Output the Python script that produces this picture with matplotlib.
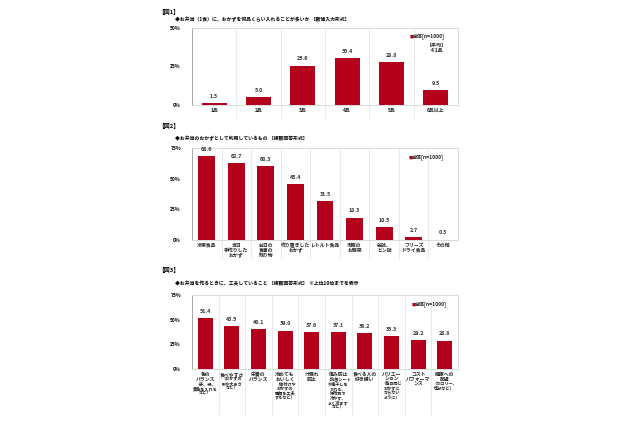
"""
three bar charts about bento side dishes (survey, n=1000)
"""
import matplotlib
matplotlib.use("Agg")
import matplotlib.pyplot as plt

plt.rcParams["font.family"] = ["Noto Sans CJK JP", "DejaVu Sans"]

# --- data ---
fig1_title = "◆お弁当（1食）に、おかずを何品くらい入れることが多いか ［数値入力形式］"
fig1_cats = ["1品", "2品", "3品", "4品", "5品", "6品以上"]
fig1_vals = [1.5, 5.0, 25.6, 30.4, 28.0, 9.5]
fig1_ticks = [0, 25, 50]

fig2_title = "◆お弁当のおかずとして利用しているもの ［複数回答形式］"
fig2_cats = ["冷凍食品", "当日\n手作りした\nおかず", "前日の\n食事の\n残り物",
             "作り置きした\nおかず", "レトルト食品", "市販の\nお惣菜", "缶詰、\nビン詰",
             "フリーズ\nドライ食品", "その他"]
fig2_vals = [68.6, 62.7, 60.3, 45.4, 31.5, 18.3, 10.5, 2.7, 0.3]
fig2_ticks = [0, 25, 50, 75]

fig3_title = "◆お弁当を作るときに、工夫していること ［複数回答形式］ ※上位10位までを表示"
fig3_cats = ["色の\nバランス", "食べやすさ", "栄養の\nバランス", "冷めても\nおいしく",
             "汁漏れ\n防止", "傷み防止", "食べる人の\n好き嫌い", "バリエー\nション",
             "コスト\nパフォーマ\nンス", "健康への\n配慮"]
fig3_notes = ["（赤、緑、\n黄色を入れる\nなど）", "（おかずの\n形や大きさ\nなど）", "",
              "（味付けや\nおかずの\n種類を工夫\nするなど）", "",
              "（抗菌シート\nや梅干しを\n入れる、\n保冷剤で\n冷やす、\nよく冷ます\nなど）",
              "", "（毎日同じ\nおかずに\nならない\nように）", "", "（カロリー、\n塩分など）"]
fig3_vals = [51.4, 43.5, 40.1, 39.0, 37.6, 37.1, 36.2, 33.3, 29.2, 28.8]
fig3_ticks = [0, 25, 50, 75]

legend_text = "全体[n=1000]"
RED = "#B3001B"
W, H = 640, 426


def fig_rect(left, top, right, bottom):
    return [left / W, 1 - bottom / H, (right - left) / W, (bottom - top) / H]


def put_lines(ax, i, text, start, pitch, size):
    # one annotate per line so the line pitch stays tight like the original
    for k, line in enumerate(text.split("\n")):
        ax.annotate(line, xy=(i, 0), xycoords=("data", "axes fraction"),
                    xytext=(0, -(start + k * pitch)), textcoords="offset points",
                    ha="center", va="center", fontsize=size, fontweight="bold",
                    color="#222222")
    return start + len(text.split("\n")) * pitch


def draw(fig, rect, cats, vals, ticks, sep_depth, legend_xy, pitch, notes=None):
    ax = fig.add_axes(rect)
    n = len(cats)
    x = list(range(n))
    ax.bar(x, vals, width=0.57, color=RED, zorder=3)
    ax.set_xlim(-0.5, n - 0.5)
    ax.set_ylim(0, ticks[-1])
    ax.set_yticks(ticks)
    ax.set_yticklabels([f"{t}%" for t in ticks], fontsize=3.6, fontweight="bold")
    ax.set_xticks([])
    ax.tick_params(axis="y", length=0, pad=8)
    for s in ["top", "right", "bottom"]:
        ax.spines[s].set_color("#D6D6D6")
        ax.spines[s].set_linewidth(0.6)
    ax.spines["left"].set_color("#9A9A9A")
    ax.spines["left"].set_linewidth(0.6)
    # category separators, running down through the label area
    for b in range(1, n):
        ax.plot([b - 0.5, b - 0.5], [-sep_depth, 1], color="#E3E3E3", lw=0.5,
                transform=ax.get_xaxis_transform(), clip_on=False, zorder=1)
    for i, v in enumerate(vals):
        ax.annotate(f"{v:.1f}", xy=(i, v), xytext=(0, 3), textcoords="offset points",
                    ha="center", va="bottom", fontsize=3.9, fontweight="bold", color="#333333")
    for i, c in enumerate(cats):
        nxt = put_lines(ax, i, c, 4.0, pitch, 3.5)
        if notes and notes[i]:
            put_lines(ax, i, notes[i], nxt, pitch, 3.0)
    lx, ly = legend_xy
    fig.text(lx / W, 1 - ly / H, "■", color=RED, fontsize=3, va="center", ha="left")
    fig.text((lx + 3) / W, 1 - ly / H, legend_text, fontsize=3.6, fontweight="bold",
             va="center", ha="left", color="#222222")
    return ax


fig = plt.figure(figsize=(6.4, 4.26), dpi=100)

fig.text(158 / W, 1 - 12 / H, "【図1】", fontsize=4.2, fontweight="bold", va="center")
fig.text(175 / W, 1 - 19 / H, fig1_title, fontsize=3.5, fontweight="bold", va="center")
ax1 = draw(fig, fig_rect(192, 28, 458, 105), fig1_cats, fig1_vals, fig1_ticks,
           0.17, (410, 37), 3.5)
fig.text(437 / W, 1 - 48 / H, "【平均】\n4.1品", fontsize=3.6, fontweight="bold",
         ha="center", va="center", linespacing=1.1, color="#222222")

fig.text(158 / W, 1 - 126 / H, "【図2】", fontsize=4.2, fontweight="bold", va="center")
fig.text(175 / W, 1 - 139 / H, fig2_title, fontsize=3.5, fontweight="bold", va="center")
ax2 = draw(fig, fig_rect(192, 148, 458, 240), fig2_cats, fig2_vals, fig2_ticks,
           0.2, (409, 158), 3.6)

fig.text(158 / W, 1 - 270 / H, "【図3】", fontsize=4.2, fontweight="bold", va="center")
fig.text(175 / W, 1 - 284 / H, fig3_title, fontsize=3.5, fontweight="bold", va="center")
ax3 = draw(fig, fig_rect(192, 295, 458, 369), fig3_cats, fig3_vals, fig3_ticks,
           0.62, (412, 305), 3.35, notes=fig3_notes)

fig.savefig("out.png", dpi=100)
